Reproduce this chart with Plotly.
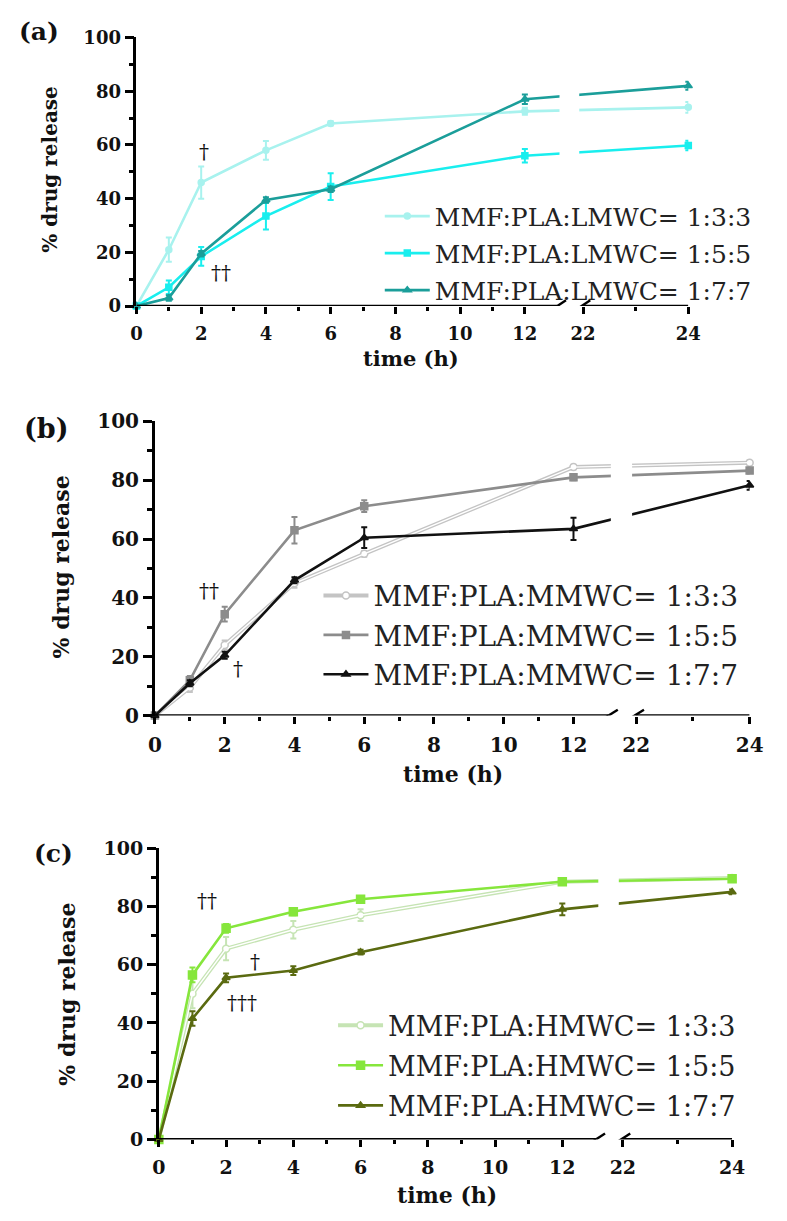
import plotly.graph_objects as go

W, H = 787, 1221

# ---------------- data ----------------
time_h = [0, 1, 2, 4, 6, 12, 24]

# panel (a) LMWC
lmwc_133 = [0, 21, 46, 58, 68, 72.5, 74]
lmwc_133_err = [0, 4.5, 6, 3.5, 0.8, 1.3, 2]
lmwc_155 = [0, 7, 18.5, 33.5, 44.5, 56, 59.8]
lmwc_155_err = [0, 2.5, 3.5, 5, 5, 2.5, 1.8]
lmwc_177 = [0, 3, 19.5, 39.5, 43.5, 77, 82]
lmwc_177_err = [0, 1, 1, 1, 1, 1.8, 1.5]

# panel (b) MMWC
mmwc_133 = [0, 9.5, 24, 45, 55, 84.5, 86]
mmwc_133_err = [0, 1.5, 1.5, 1.5, 1, 0.8, 0.8]
mmwc_155 = [0, 12, 34.5, 63, 71.2, 81, 83.3]
mmwc_155_err = [0, 1.5, 2.5, 4.5, 2, 1, 1]
mmwc_177 = [0, 11, 20.5, 46, 60.5, 63.5, 78.3]
mmwc_177_err = [0, 1, 1.2, 1, 3.5, 3.8, 1.5]

# panel (c) HMWC
hmwc_133 = [0, 50, 65.5, 72, 77, 88.5, 89.8]
hmwc_133_err = [0, 5, 4, 3, 2, 1, 1]
hmwc_155 = [0, 56.5, 72.5, 78.2, 82.5, 88.5, 89.5]
hmwc_155_err = [0, 2.5, 1.5, 1.2, 1, 0.8, 0.8]
hmwc_177 = [0, 41.5, 55.5, 58, 64.3, 79, 85]
hmwc_177_err = [0, 2.5, 1.5, 1.5, 0.8, 2, 0.8]

major_ticks = [0, 2, 4, 6, 8, 10, 12, 22, 24]
minor_ticks = [1, 3, 5, 7, 9, 11, 23]


# broken x axis scale: 0-12 linear, then 22-24 on a stretched segment
def disp(t):
    return t if t <= 12 else 13.8 + (t - 22) * 1.625


X_END = disp(24)

fig = go.Figure()

serif = "DejaVu Serif"

panels = [
    dict(key="", label="(a)", xdom=(133, 700), ydom=(300, 26),
         series=[
             ("MMF:PLA:LMWC= 1:3:3", lmwc_133, lmwc_133_err, "#a8f2ee", "circle", None, 6),
             ("MMF:PLA:LMWC= 1:5:5", lmwc_155, lmwc_155_err, "#19eeee", "square", None, 6),
             ("MMF:PLA:LMWC= 1:7:7", lmwc_177, lmwc_177_err, "#1b9e9a", "triangle-up", None, 7),
         ],
         tickfont=18, label_xy=(33, 20), label_size=25,
         ytitle_xy=(44, 160), ytitle_size=20,
         xtitle_xy=(415, 353), xtitle_size=21,
         legend_pos=(383, 185), legend_font=25, legend_gap=1.5,
         daggers=[("†", 2.1, 57.5), ("††", 2.6, 12.5)]),
    dict(key="2", label="(b)", xdom=(152, 763), ydom=(717.7, 417.7),
         series=[
             ("MMF:PLA:MMWC= 1:3:3", mmwc_133, mmwc_133_err, "#c4c4c4", "circle-open", "white", 7),
             ("MMF:PLA:MMWC= 1:5:5", mmwc_155, mmwc_155_err, "#8c8c8c", "square", None, 7),
             ("MMF:PLA:MMWC= 1:7:7", mmwc_177, mmwc_177_err, "#111111", "triangle-up", None, 7),
         ],
         tickfont=20, label_xy=(40, 425), label_size=27,
         ytitle_xy=(55, 566), ytitle_size=22,
         xtitle_xy=(458, 777), xtitle_size=22,
         legend_pos=(320, 570), legend_font=28, legend_gap=0,
         daggers=[("††", 1.54, 42.5), ("†", 2.38, 16)]),
    dict(key="3", label="(c)", xdom=(156, 745), ydom=(1150, 853),
         series=[
             ("MMF:PLA:HMWC= 1:3:3", hmwc_133, hmwc_133_err, "#c6e4b4", "circle-open", "white", 7),
             ("MMF:PLA:HMWC= 1:5:5", hmwc_155, hmwc_155_err, "#86e63c", "square", None, 8),
             ("MMF:PLA:HMWC= 1:7:7", hmwc_177, hmwc_177_err, "#5a6a10", "triangle-up", None, 7),
         ],
         tickfont=19, label_xy=(48, 858), label_size=25,
         ytitle_xy=(62, 1002), ytitle_size=22,
         xtitle_xy=(452, 1207), xtitle_size=22,
         legend_pos=(335, 1009), legend_font=27, legend_gap=2,
         daggers=[("††", 1.44, 82), ("†", 2.87, 61), ("†††", 2.48, 47)]),
]

annotations = []
shapes = []
layout_axes = {}

for p in panels:
    k = p["key"]
    xa = "x" + k
    ya = "y" + k
    leg = "legend" + k
    xd = [p["xdom"][0] / W, p["xdom"][1] / W]
    yd = [1 - p["ydom"][0] / H, 1 - p["ydom"][1] / H]
    ppu = (p["ydom"][0] - p["ydom"][1]) / 100.0  # px per y-unit

    for i, (name, vals, err, col, sym, fill, msize) in enumerate(p["series"]):
        xs = [disp(t) for t in time_h]
        open_style = fill is not None
        fig.add_trace(go.Scatter(
            x=xs, y=vals, name=name, mode="lines+markers",
            xaxis=xa, yaxis=ya, legend=leg, legendgroup=f"{k}_{i}",
            line=dict(color=col, width=4 if open_style else 2.6),
            marker=dict(symbol="circle" if open_style else sym, size=msize,
                        color="white" if open_style else col,
                        line=dict(color=col, width=1.5)),
            error_y=dict(type="data", array=err, visible=True,
                         color=col, thickness=2, width=3),
            cliponaxis=False,
        ))
        if open_style:
            fig.add_trace(go.Scatter(
                x=xs, y=vals, mode="lines", showlegend=False,
                xaxis=xa, yaxis=ya, hoverinfo="skip",
                line=dict(color="white", width=1.4),
            ))

    tf = dict(family=serif, size=p["tickfont"], color="#111", weight="bold")
    layout_axes["xaxis" + k] = dict(
        domain=xd, range=[0, X_END], anchor=ya,
        showline=False, zeroline=False, showgrid=False,
        tickmode="array", tickvals=[disp(t) for t in major_ticks],
        ticktext=[str(t) for t in major_ticks],
        ticks="outside", ticklen=7, tickwidth=2.5, tickcolor="black",
        minor=dict(tickmode="array", tickvals=[disp(t) for t in minor_ticks],
                   ticks="outside", ticklen=4, tickwidth=2.5, tickcolor="black"),
        tickfont=tf, ticklabelstandoff=4,
    )
    layout_axes["yaxis" + k] = dict(
        domain=yd, range=[0, 100], anchor=xa,
        showline=True, linewidth=2.8, linecolor="black",
        zeroline=False, showgrid=False,
        tickmode="linear", tick0=0, dtick=20,
        ticks="outside", ticklen=9, tickwidth=2.5, tickcolor="black",
        minor=dict(tickmode="linear", tick0=0, dtick=10, ticks="outside",
                   ticklen=5, tickwidth=2.5, tickcolor="black"),
        tickfont=tf,
    )

    # break: white mask over the data lines, axis segments, slashes
    shapes.append(dict(type="rect", xref=xa, yref=ya, x0=13.07, x1=13.68,
                       y0=0.8, y1=100, fillcolor="white", line_width=0,
                       layer="above"))
    shapes.append(dict(type="line", xref=xa, yref=ya, x0=0, x1=13.0, y0=0, y1=0,
                       line=dict(color="black", width=2.8), layer="above"))
    shapes.append(dict(type="line", xref=xa, yref=ya, x0=13.8, x1=X_END, y0=0, y1=0,
                       line=dict(color="black", width=2.8), layer="above"))
    dy = 6.0 / ppu
    for c in (13.0, 13.75):
        shapes.append(dict(type="line", xref=xa, yref=ya,
                           x0=c - 0.27, x1=c + 0.27, y0=-dy, y1=dy,
                           line=dict(color="black", width=2.4), layer="above"))

    # texts
    annotations.append(dict(text=p["label"], xref="paper", yref="paper",
                            x=p["label_xy"][0] / W, y=1 - p["label_xy"][1] / H,
                            showarrow=False, xanchor="center", yanchor="middle",
                            font=dict(family=serif, size=p["label_size"],
                                      color="#111", weight="bold")))
    annotations.append(dict(text="% drug release", xref="paper", yref="paper",
                            x=p["ytitle_xy"][0] / W, y=1 - p["ytitle_xy"][1] / H,
                            textangle=-90, showarrow=False,
                            xanchor="center", yanchor="middle",
                            font=dict(family=serif, size=p["ytitle_size"],
                                      color="#111", weight="bold")))
    annotations.append(dict(text="time (h)", xref="paper", yref="paper",
                            x=p["xtitle_xy"][0] / W, y=1 - p["xtitle_xy"][1] / H,
                            showarrow=False, xanchor="center", yanchor="middle",
                            font=dict(family=serif, size=p["xtitle_size"],
                                      color="#111", weight="bold")))
    for txt, dx, dyv in p["daggers"]:
        annotations.append(dict(text=txt, xref=xa, yref=ya, x=dx, y=dyv,
                                showarrow=False, xanchor="center", yanchor="middle",
                                font=dict(family=serif, size=20, color="#111")))

    layout_axes[leg] = dict(
        x=p["legend_pos"][0] / W, y=1 - p["legend_pos"][1] / H,
        xanchor="left", yanchor="top", bgcolor="rgba(0,0,0,0)",
        font=dict(family=serif, size=p["legend_font"], color="#222"),
        itemwidth=45, tracegroupgap=p["legend_gap"],
    )

fig.update_layout(
    width=W, height=H,
    margin=dict(l=0, r=0, t=0, b=0),
    paper_bgcolor="white", plot_bgcolor="white",
    showlegend=True,
    annotations=annotations, shapes=shapes,
    **layout_axes,
)

fig.write_html(
    "out.html",
    post_script="document.body.style.margin='0';document.body.style.overflow='hidden';",
)
